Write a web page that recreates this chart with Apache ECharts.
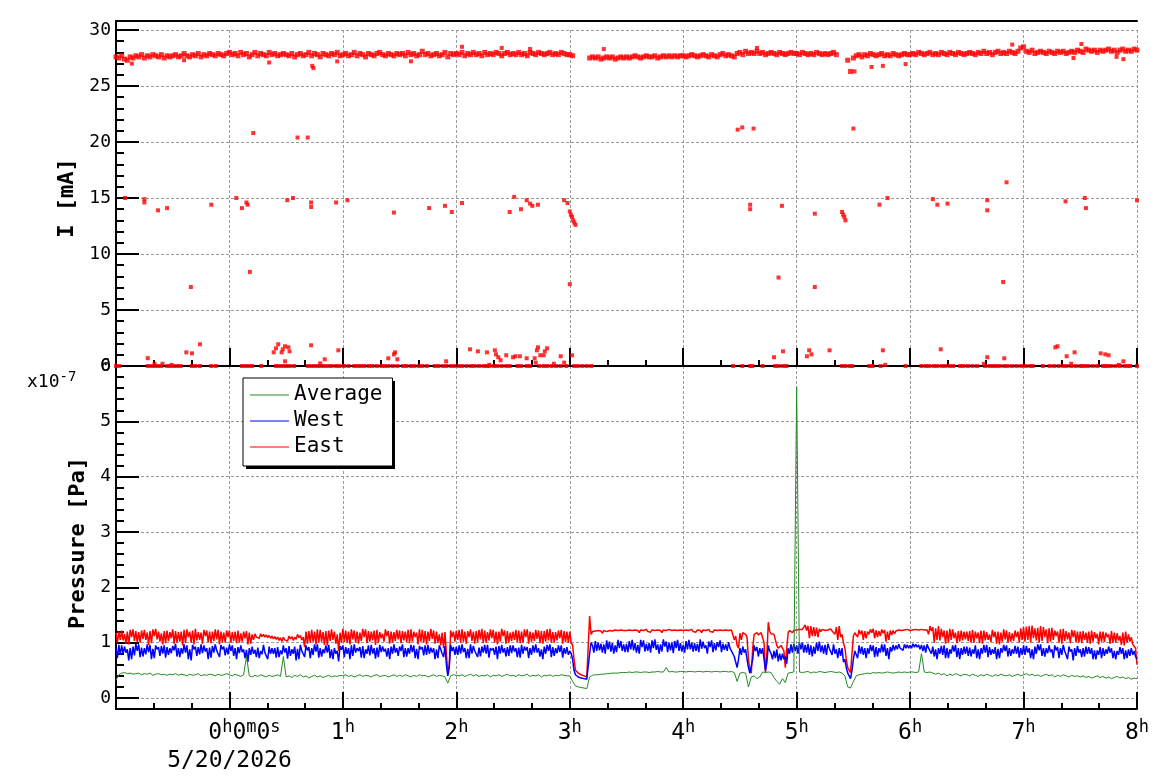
<!DOCTYPE html>
<html>
<head>
<meta charset="utf-8">
<title>Beam current and pressure</title>
<script src="https://cdn.jsdelivr.net/npm/echarts@6.0.0/dist/echarts.min.js"></script>
<style>
  html, body { margin: 0; padding: 0; background: #fff; }
  #main { width: 1158px; height: 782px; }
</style>
</head>
<body>
<div id="main"></div>
<script>
// hours after 5/20/2026 00:00
var T0 = -1;
var DT = 0.025;      // current band and average pressure: one reading / 1.5 min
var DT_FAST = 0.0125; // east and west gauges: one reading / 45 s

// beam current band I [mA], one row = half an hour, null = no reading
var bandI = [
  27.6,27.5,27.7,27.4,27.3,27.6,27.5,27.7,27.6,27.8,27.5,27.7,27.6,27.8,27.7,27.6,27.8,27.5,27.7,27.6,
  27.7,27.8,27.6,27.7,27.9,27.7,27.6,27.8,27.7,27.9,27.6,27.8,27.7,27.9,27.8,27.7,27.9,27.8,27.7,27.9,
  28.0,27.8,27.9,27.7,28.0,27.8,27.9,27.6,27.8,28.0,27.7,27.9,27.8,27.7,28.0,27.8,27.9,27.7,27.8,27.9,
  27.8,27.7,27.9,27.6,27.8,27.9,27.7,27.8,28.0,27.7,27.9,27.8,27.6,27.9,27.8,27.7,27.9,27.8,28.0,27.7,
  27.8,27.9,27.7,27.8,28.0,27.7,27.9,27.8,27.6,27.9,27.8,27.7,27.9,28.0,27.8,27.7,27.9,27.8,27.7,27.9,
  27.8,27.9,27.7,28.0,27.8,27.9,27.7,27.8,28.1,27.8,27.9,27.7,27.8,27.9,27.7,27.8,28.0,27.6,27.9,27.8,
  27.9,27.8,28.0,27.7,27.9,27.8,28.0,27.8,27.9,27.7,28.0,27.8,27.9,27.8,28.0,27.9,27.7,27.9,28.0,27.8,
  27.9,27.8,28.0,27.8,27.9,27.7,28.0,27.9,27.8,28.0,27.9,27.8,27.9,28.0,27.8,27.9,27.8,28.0,27.9,27.8,
  27.8,27.7,null,null,null,null,null,27.5,27.6,27.5,27.6,27.4,27.5,27.6,27.5,27.6,27.4,27.5,27.6,27.5,
  27.6,27.5,27.6,27.7,27.6,27.5,27.6,27.7,27.6,27.6,27.7,27.5,27.6,27.7,27.6,27.7,27.6,27.7,27.6,27.7,
  27.7,27.6,27.7,27.8,27.7,27.6,27.7,27.8,27.7,27.6,27.8,27.7,27.6,27.8,27.9,27.7,27.8,27.7,27.6,27.9,
  28.0,27.8,28.1,27.9,28.0,27.9,28.1,27.9,28.0,27.8,27.9,28.0,27.9,27.8,28.0,27.9,27.8,27.9,28.0,27.9,
  27.9,27.8,28.0,27.9,27.8,27.9,27.8,28.0,27.9,27.8,27.9,27.8,27.9,28.0,27.8,null,null,null,27.3,26.3,
  27.5,27.7,27.8,27.6,27.8,27.7,27.9,27.8,27.7,27.8,27.9,27.7,27.8,27.7,27.9,27.8,27.7,27.8,27.9,27.8,
  27.8,27.9,27.8,28.0,27.9,27.8,27.9,28.0,27.8,27.9,27.8,28.0,27.9,27.8,28.0,27.9,27.8,28.0,27.9,27.8,
  27.9,28.0,27.9,27.8,28.0,27.9,28.1,27.9,28.0,27.8,28.0,28.1,27.9,28.0,27.9,28.1,28.0,27.9,28.1,28.4,
  28.5,28.1,28.0,28.2,27.9,28.0,28.1,28.0,27.9,28.1,28.0,27.9,28.1,28.0,28.1,27.9,28.0,28.1,28.0,28.2,
  28.1,28.0,28.3,28.2,28.1,28.2,28.0,28.2,28.1,28.2,28.3,28.1,28.2,28.0,28.2,28.3,28.1,28.2,28.1,28.3,
  28.2
];

// stray current readings away from the band
var strayT = [-0.92,-0.75,-0.75,-0.63,-0.55,-0.34,-0.16,0.06,0.11,0.15,0.16,0.18,0.21,0.51,0.56,0.6,0.69,0.72,0.72,0.94,
  1.04,1.45,1.76,1.9,1.96,2.05,2.47,2.51,2.57,2.62,2.65,2.67,2.72,2.95,2.98,3.0,3.01,3.02,3.03,3.04,3.05,3.0,
  4.48,4.52,4.62,4.59,4.59,4.84,4.87,5.16,5.16,5.4,5.41,5.42,5.43,5.5,5.73,5.8,6.2,6.24,6.33,6.68,6.68,6.85,6.82,
  7.37,7.54,7.55,8.0,
  -0.86,-0.4,0.35,0.73,0.74,0.95,1.6,2.05,2.4,2.65,3.3,4.65,5.51,5.66,5.76,5.96,6.9,7.44,7.51,7.82,7.88];
var strayI = [15.0,14.9,14.6,13.9,14.1,7.05,14.4,15.0,14.1,14.6,14.4,8.4,20.8,14.8,15.0,20.4,20.4,14.6,14.2,14.6,
  14.8,13.7,14.1,14.3,13.75,14.55,13.75,15.1,14.0,14.8,14.5,14.3,14.4,14.8,14.55,13.8,13.5,13.3,13.0,12.8,12.6,7.3,
  21.1,21.3,21.2,14.4,14.0,7.9,14.3,7.05,13.6,13.75,13.5,13.3,13.0,21.2,14.4,15.0,14.9,14.4,14.5,14.8,13.9,16.4,7.5,
  14.7,15.0,14.1,14.8,
  27.0,27.3,27.1,26.8,26.6,27.2,27.2,28.5,28.4,28.3,28.3,28.4,26.3,26.7,26.8,26.96,28.7,27.5,28.75,27.6,27.4];

// low readings just above zero
var lowT = [-0.72,-0.66,-0.59,-0.51,-0.38,-0.33,-0.26,0.39,0.41,0.43,0.46,0.47,0.49,0.52,0.53,0.49,0.72,0.8,0.84,0.96,
  1.4,1.45,1.46,1.48,1.91,2.12,2.19,2.27,2.29,2.34,2.35,2.37,2.39,2.44,2.5,2.52,2.56,2.62,2.69,2.7,2.71,2.72,2.74,
  2.77,2.78,2.8,2.86,2.92,2.95,3.02,4.8,4.88,5.09,5.11,5.13,5.29,5.76,5.78,6.27,6.65,6.68,6.83,7.28,7.3,7.38,7.42,
  7.45,7.68,7.72,7.75,7.84,7.88];
var lowI = [0.7,0.2,0.2,0.1,1.22,1.13,1.94,1.22,1.58,1.94,1.22,1.49,1.76,1.67,1.31,0.42,1.85,0.24,0.6,1.4,
  0.69,1.04,1.22,0.6,0.42,1.49,1.31,1.22,0.1,1.4,1.04,0.78,0.51,0.96,0.78,0.87,0.87,0.69,0.69,0.3,1.4,1.67,0.96,
  0.96,1.31,1.58,0.2,0.87,0.3,0.96,0.78,1.31,0.87,1.4,1.04,1.4,1.4,0.1,1.49,0.2,0.78,0.69,1.67,1.76,0.87,0.2,
  1.22,1.13,1.04,0.96,0.1,0.42];

// times where the current read 0 mA (beam off)
var zeroT = [-1.0,-0.97,-0.72,-0.69,-0.66,-0.63,-0.6,-0.55,-0.52,-0.49,-0.46,-0.43,-0.33,-0.3,-0.26,-0.16,-0.12,
  0.11,0.14,0.17,0.2,0.28,0.41,0.44,0.47,0.5,0.53,0.57,0.69,0.72,0.75,0.78,0.81,0.84,0.87,0.9,0.94,0.97,
  1.01,1.05,1.1,1.13,1.16,1.19,1.23,1.26,1.3,1.34,1.37,1.4,1.44,1.48,1.53,1.56,1.6,1.63,1.67,1.7,1.74,
  1.81,1.84,1.88,1.91,1.95,1.98,2.02,2.05,2.09,2.13,2.16,2.2,2.24,2.27,2.29,2.33,2.36,2.4,2.44,2.47,
  2.54,2.57,2.62,2.65,2.73,2.77,2.8,2.84,2.88,2.92,2.97,3.04,3.07,3.11,3.15,3.19,
  4.44,4.52,4.59,4.61,4.7,4.81,4.84,4.88,4.91,5.4,5.43,5.47,5.49,5.64,5.67,5.74,5.96,
  6.1,6.14,6.17,6.21,6.24,6.28,6.31,6.35,6.38,6.44,6.47,6.51,6.55,6.59,6.66,6.7,6.73,6.76,
  6.79,6.83,6.86,6.9,6.94,6.98,7.02,7.06,7.08,7.17,7.23,7.27,7.31,7.35,7.38,7.42,7.46,7.5,7.52,
  7.54,7.57,7.61,7.65,7.7,7.72,7.74,7.77,7.81,7.85,7.89,7.92,7.94,8.0];

// vacuum pressure in units of 1e-7 Pa, east/west every 45 s, one row = half an hour
var eastP = [
  1.18,1.0,1.2,1.05,1.22,1.04,1.16,0.98,1.2,0.97,1.23,1.1,1.24,1.03,1.21,1.0,1.19,1.0,1.22,1.07,1.23,1.05,1.18,0.96,1.21,0.99,1.24,1.12,1.25,1.06,1.2,1.02,1.17,0.97,1.21,0.99,1.22,1.03,1.19,1.08,
  1.24,0.98,1.21,1.0,1.19,1.02,1.2,0.95,1.23,0.99,1.24,1.1,1.2,1.0,1.22,0.97,1.25,1.04,1.19,1.05,1.18,0.98,1.23,1.12,1.22,1.01,1.2,0.99,1.2,1.03,1.24,1.06,1.23,0.97,1.2,1.01,1.18,1.0,1.22,1.1,
  1.22,1.0,1.19,1.03,1.2,0.99,1.22,1.0,1.17,1.02,1.2,1.08,1.21,0.97,1.18,0.98,1.15,1.05,1.16,1.1,1.12,1.08,1.16,1.11,1.15,1.1,1.14,1.09,1.13,1.08,1.12,1.07,1.11,1.06,1.1,1.04,1.09,1.02,1.1,1.05,
  1.08,1.03,1.12,1.07,1.11,1.04,1.1,1.06,1.15,1.09,1.13,1.05,1.1,0.92,1.2,0.98,1.21,1.0,1.23,1.02,1.2,0.97,1.24,1.0,1.23,1.02,1.19,0.96,1.21,0.95,1.22,1.03,1.24,1.05,1.2,0.98,1.15,0.85,1.18,1.0,
  1.25,1.01,1.22,1.0,1.2,0.97,1.24,1.06,1.22,1.0,1.2,0.98,1.18,1.03,1.25,1.1,1.24,0.99,1.21,1.02,1.2,1.04,1.22,0.96,1.23,1.0,1.19,1.08,1.16,1.02,1.24,1.12,1.21,0.98,1.2,1.0,1.19,1.03,1.23,1.06,
  1.22,0.99,1.21,1.04,1.2,1.01,1.23,0.99,1.24,1.02,1.2,1.1,1.18,0.97,1.24,1.02,1.23,1.0,1.21,0.97,1.2,1.03,1.25,1.07,1.22,0.98,1.2,1.0,1.15,0.95,1.18,0.9,1.19,0.8,0.45,0.6,1.22,1.1,1.2,1.02,
  1.22,1.05,1.23,1.0,1.24,1.02,1.2,0.98,1.21,1.1,1.24,1.03,1.2,0.98,1.21,1.01,1.23,1.06,1.25,0.99,1.22,1.0,1.19,1.04,1.24,1.08,1.23,1.0,1.2,0.97,1.2,1.02,1.25,1.12,1.22,0.98,1.21,1.0,1.18,1.03,
  1.2,1.05,1.23,1.01,1.22,0.99,1.2,1.0,1.24,1.1,1.24,0.98,1.2,1.02,1.18,1.03,1.23,1.07,1.22,0.99,1.21,0.98,1.21,1.02,1.24,1.04,1.25,1.0,1.19,1.0,1.19,1.04,1.22,1.08,1.23,0.98,1.21,1.01,1.2,1.0,
  1.2,1.0,0.95,0.7,0.5,0.47,0.45,0.44,0.42,0.41,0.4,0.39,0.38,0.38,1.48,1.15,1.2,1.17,1.21,1.18,1.22,1.19,1.21,1.17,1.22,1.19,1.2,1.18,1.22,1.19,1.21,1.18,1.23,1.2,1.22,1.19,1.23,1.2,1.22,1.19,
  1.22,1.19,1.23,1.2,1.22,1.19,1.23,1.2,1.22,1.18,1.23,1.2,1.22,1.19,1.24,1.2,1.22,1.19,1.23,1.2,1.22,1.19,1.23,1.2,1.22,1.18,1.23,1.2,1.22,1.19,1.24,1.21,1.22,1.19,1.23,1.2,1.22,1.19,1.23,1.2,
  1.22,1.19,1.23,1.2,1.22,1.19,1.24,1.2,1.22,1.19,1.23,1.2,1.22,1.18,1.23,1.2,1.22,1.19,1.24,1.2,1.22,1.19,1.23,1.2,1.22,1.19,1.23,1.21,1.22,1.19,1.23,1.2,1.22,1.19,1.23,1.2,1.05,1.12,0.95,0.9,
  1.17,1.05,1.18,1.16,1.15,1.1,0.7,0.5,0.45,0.9,1.15,1.18,1.18,1.14,1.16,1.18,1.17,1.0,0.46,0.8,1.37,1.2,1.16,1.18,1.15,1.05,0.95,0.9,0.88,0.95,0.92,0.85,0.55,0.9,1.18,1.22,1.2,1.18,1.22,1.2,
  1.23,1.2,1.24,1.21,1.24,1.21,1.32,1.22,1.3,1.08,1.3,1.12,1.28,1.12,1.27,1.1,1.25,1.2,1.24,1.22,1.22,1.2,1.23,1.2,1.25,1.21,1.24,1.15,1.28,1.05,1.3,1.1,1.15,1.0,0.9,0.7,0.55,0.5,0.46,0.8,
  1.12,1.18,1.2,1.1,1.23,1.15,1.22,1.05,1.21,1.08,1.2,1.15,1.24,1.18,1.25,1.08,1.22,1.1,1.21,1.12,1.24,1.17,1.23,1.02,1.2,1.05,1.22,1.14,1.22,1.16,1.21,1.2,1.23,1.2,1.22,1.2,1.23,1.2,1.24,1.21,
  1.22,1.2,1.23,1.2,1.24,1.21,1.23,1.2,1.24,1.21,1.23,1.2,1.23,1.15,1.3,1.21,1.28,1.0,1.26,1.05,1.3,1.04,1.25,1.1,1.22,0.98,1.22,1.0,1.25,1.05,1.24,1.08,1.18,0.99,1.21,1.02,1.22,1.04,1.2,1.06,
  1.2,1.03,1.21,1.0,1.23,1.0,1.2,1.08,1.18,0.99,1.22,0.98,1.22,1.04,1.19,1.05,1.15,1.01,1.23,1.1,1.2,0.98,1.2,0.97,1.18,1.02,1.24,1.06,1.22,1.0,1.19,1.02,1.17,1.03,1.22,1.1,1.2,1.0,1.26,1.05,
  1.28,1.02,1.29,1.05,1.3,1.0,1.31,1.08,1.26,1.04,1.27,1.0,1.3,1.03,1.28,1.1,1.24,0.99,1.26,1.02,1.27,1.05,1.22,1.12,1.2,1.0,1.24,0.98,1.25,1.03,1.21,1.06,1.18,0.99,1.23,1.1,1.22,1.01,1.2,1.0,
  1.2,0.99,1.21,1.05,1.18,1.0,1.2,0.98,1.22,1.02,1.19,1.08,1.16,0.97,1.2,1.02,1.2,1.01,1.18,1.1,1.15,0.98,1.21,1.0,1.18,1.0,1.17,1.04,1.12,0.96,1.18,0.95,1.2,1.0,1.15,1.02,1.1,0.97,0.98,0.9,
  0.6
];
var westP = [
  0.9,0.72,0.96,0.78,0.95,0.8,0.93,0.82,0.88,0.68,0.9,0.7,0.93,0.77,0.98,0.85,0.97,0.74,0.91,0.75,0.9,0.79,0.97,0.83,0.96,0.7,0.89,0.72,0.95,0.88,0.92,0.76,0.94,0.8,0.95,0.73,0.92,0.78,0.9,0.81,
  0.94,0.86,0.98,0.75,0.9,0.74,0.9,0.8,0.97,0.82,0.95,0.7,0.88,0.68,0.96,0.88,0.93,0.76,0.92,0.79,0.97,0.81,0.95,0.84,0.9,0.7,0.91,0.73,0.94,0.82,0.97,0.86,0.8,0.74,0.96,0.88,0.93,0.77,0.91,0.79,
  0.97,0.85,0.95,0.76,0.9,0.7,0.92,0.81,0.95,0.83,0.88,0.72,0.87,0.65,0.9,0.78,0.93,0.8,0.87,0.74,0.91,0.72,0.85,0.79,0.96,0.82,0.85,0.7,0.93,0.8,0.9,0.8,0.9,0.73,0.92,0.74,0.86,0.79,0.95,0.82,
  0.9,0.71,0.94,0.76,0.88,0.8,0.93,0.68,0.89,0.7,0.96,0.85,0.8,0.74,0.95,0.86,0.92,0.72,0.9,0.78,0.97,0.84,0.97,0.73,0.9,0.75,0.88,0.81,0.95,0.82,0.96,0.72,0.88,0.7,0.9,0.8,0.85,0.66,0.94,0.87,
  0.95,0.74,0.92,0.8,0.9,0.7,0.95,0.76,0.97,0.82,0.9,0.85,0.92,0.73,0.94,0.72,0.88,0.8,0.95,0.77,0.96,0.8,0.9,0.71,0.91,0.74,0.96,0.83,0.93,0.84,0.89,0.75,0.9,0.7,0.93,0.8,0.97,0.82,0.9,0.76,
  0.93,0.85,0.97,0.74,0.9,0.75,0.9,0.8,0.96,0.83,0.95,0.72,0.89,0.7,0.94,0.88,0.92,0.77,0.95,0.78,0.96,0.8,0.91,0.82,0.9,0.7,0.88,0.72,0.95,0.88,0.8,0.74,0.94,0.6,0.4,0.55,0.96,0.85,0.92,0.78,
  0.93,0.78,0.95,0.8,0.97,0.83,0.9,0.72,0.89,0.72,0.97,0.8,0.94,0.85,0.88,0.74,0.91,0.75,0.93,0.82,0.96,0.8,0.96,0.73,0.9,0.86,0.9,0.78,0.93,0.7,0.94,0.8,0.96,0.82,0.9,0.75,0.92,0.76,0.95,0.81,
  0.95,0.84,0.9,0.74,0.91,0.73,0.96,0.8,0.93,0.86,0.92,0.72,0.9,0.78,0.95,0.82,0.97,0.82,0.9,0.75,0.88,0.7,0.93,0.8,0.96,0.85,0.97,0.74,0.92,0.76,0.9,0.81,0.95,0.83,0.95,0.73,0.9,0.8,0.92,0.78,
  0.85,0.8,0.7,0.5,0.42,0.4,0.38,0.37,0.36,0.36,0.35,0.34,0.34,0.34,0.8,1.0,0.95,0.82,1.03,0.85,1.0,0.86,0.98,0.82,0.97,0.8,1.04,0.88,1.02,0.84,0.99,0.8,0.95,0.83,1.05,0.9,1.03,0.85,0.97,0.83,
  0.98,0.83,1.03,0.88,1.05,0.86,0.99,0.82,0.96,0.8,1.05,0.92,1.04,0.84,0.98,0.85,0.99,0.82,1.04,0.9,1.06,0.87,0.97,0.8,0.97,0.84,1.06,0.93,1.02,0.83,1.0,0.86,1.0,0.81,1.03,0.9,1.05,0.85,0.99,0.84,
  0.96,0.82,1.03,0.88,1.05,0.88,1.0,0.84,0.99,0.85,0.98,0.83,1.06,0.89,1.02,0.9,0.95,0.8,1.02,0.92,1.04,0.83,0.99,0.86,1.01,0.92,1.04,0.83,0.98,0.87,0.97,0.85,1.01,0.9,0.88,0.8,0.75,0.65,0.55,0.7,
  0.9,0.78,0.93,0.82,0.88,0.7,0.55,0.45,0.42,0.7,0.95,0.85,0.92,0.75,0.9,0.8,0.9,0.7,0.5,0.65,0.95,0.85,0.8,0.7,0.85,0.72,0.88,0.66,0.8,0.68,0.8,0.7,0.75,0.62,0.9,0.8,0.97,0.82,0.98,0.85,
  0.95,0.8,1.0,0.88,1.0,0.82,0.96,0.82,0.98,0.78,0.95,0.75,0.93,0.8,1.0,0.85,1.02,0.83,0.95,0.8,0.96,0.78,0.98,0.9,0.92,0.78,0.97,0.8,0.88,0.72,0.9,0.76,0.9,0.65,0.7,0.55,0.45,0.4,0.35,0.5,
  0.7,0.85,0.88,0.72,0.95,0.8,0.93,0.78,0.9,0.72,0.9,0.8,0.96,0.85,0.95,0.74,0.92,0.75,0.9,0.82,0.97,0.83,0.97,0.76,0.9,0.7,0.92,0.84,0.96,0.86,0.95,0.88,0.97,0.9,0.93,0.86,0.97,0.9,0.96,0.9,
  0.95,0.9,0.98,0.92,0.97,0.92,0.96,0.88,0.96,0.85,0.95,0.82,0.97,0.9,0.92,0.8,0.93,0.75,0.88,0.7,0.9,0.8,0.94,0.78,0.95,0.72,0.9,0.72,0.88,0.8,0.95,0.84,0.96,0.74,0.9,0.7,0.9,0.78,0.93,0.8,
  0.93,0.76,0.91,0.75,0.88,0.8,0.95,0.72,0.88,0.7,0.9,0.8,0.96,0.82,0.96,0.74,0.92,0.78,0.88,0.8,0.92,0.7,0.89,0.72,0.9,0.82,0.96,0.85,0.95,0.75,0.9,0.76,0.88,0.8,0.94,0.8,0.93,0.73,0.9,0.78,
  0.95,0.78,0.94,0.82,0.9,0.72,0.88,0.7,0.93,0.8,0.97,0.86,0.97,0.76,0.9,0.75,0.9,0.81,0.95,0.83,0.88,0.72,0.95,0.86,0.92,0.72,0.9,0.78,0.96,0.85,0.78,0.7,0.93,0.84,0.88,0.68,0.9,0.76,0.94,0.82,
  0.88,0.74,0.9,0.75,0.93,0.8,0.92,0.8,0.9,0.7,0.86,0.7,0.86,0.78,0.92,0.72,0.9,0.76,0.88,0.8,0.93,0.82,0.9,0.72,0.85,0.7,0.85,0.78,0.92,0.8,0.9,0.7,0.86,0.72,0.88,0.76,0.9,0.78,0.85,0.75,
  0.7
];
// average of the gauges, every 1.5 min
var avgP = [
  0.32,0.42,0.45,0.46,0.44,0.45,0.43,0.44,0.45,0.42,0.44,0.43,0.45,0.41,0.43,0.44,0.42,0.43,0.41,0.43,
  0.42,0.44,0.41,0.43,0.42,0.4,0.43,0.41,0.42,0.44,0.4,0.42,0.41,0.43,0.42,0.4,0.43,0.41,0.42,0.44,
  0.42,0.4,0.43,0.41,0.39,0.42,0.75,0.4,0.38,0.41,0.39,0.42,0.4,0.38,0.41,0.39,0.4,0.42,0.39,0.75,
  0.38,0.4,0.37,0.41,0.39,0.42,0.38,0.4,0.36,0.39,0.41,0.38,0.4,0.37,0.39,0.41,0.38,0.4,0.39,0.41,
  0.4,0.42,0.39,0.41,0.38,0.4,0.42,0.39,0.41,0.4,0.38,0.41,0.42,0.39,0.4,0.41,0.38,0.4,0.42,0.39,
  0.41,0.39,0.42,0.4,0.38,0.41,0.39,0.42,0.4,0.41,0.38,0.4,0.42,0.39,0.41,0.4,0.38,0.27,0.4,0.42,
  0.41,0.4,0.42,0.39,0.41,0.43,0.4,0.42,0.39,0.41,0.4,0.42,0.38,0.41,0.4,0.42,0.39,0.41,0.43,0.4,
  0.41,0.39,0.42,0.4,0.41,0.43,0.39,0.41,0.4,0.42,0.38,0.41,0.4,0.42,0.39,0.41,0.4,0.42,0.41,0.4,
  0.4,0.3,0.22,0.2,0.19,0.18,0.17,0.38,0.41,0.42,0.42,0.43,0.43,0.44,0.44,0.45,0.45,0.45,0.46,0.46,
  0.46,0.47,0.46,0.47,0.47,0.46,0.47,0.47,0.46,0.47,0.47,0.48,0.47,0.47,0.55,0.47,0.48,0.47,0.47,0.48,
  0.48,0.47,0.48,0.48,0.47,0.48,0.48,0.47,0.48,0.48,0.47,0.48,0.48,0.47,0.48,0.48,0.47,0.48,0.46,0.3,
  0.45,0.46,0.45,0.2,0.38,0.4,0.35,0.38,0.47,0.46,0.47,0.46,0.37,0.3,0.25,0.35,0.28,0.45,0.46,0.47,
  5.62,0.47,0.46,0.47,0.48,0.45,0.47,0.46,0.48,0.47,0.46,0.47,0.48,0.47,0.46,0.47,0.45,0.4,0.2,0.18,
  0.3,0.4,0.42,0.43,0.44,0.45,0.44,0.46,0.45,0.46,0.45,0.46,0.47,0.46,0.45,0.46,0.47,0.46,0.47,0.46,
  0.47,0.47,0.46,0.47,0.8,0.47,0.46,0.47,0.45,0.43,0.45,0.42,0.44,0.4,0.43,0.41,0.44,0.42,0.4,0.43,
  0.42,0.4,0.43,0.41,0.39,0.42,0.4,0.43,0.41,0.39,0.42,0.4,0.43,0.41,0.4,0.42,0.39,0.41,0.43,0.4,
  0.42,0.44,0.41,0.43,0.4,0.42,0.39,0.41,0.43,0.4,0.42,0.38,0.41,0.39,0.42,0.4,0.38,0.41,0.39,0.4,
  0.38,0.4,0.37,0.39,0.36,0.38,0.4,0.37,0.39,0.36,0.38,0.35,0.37,0.39,0.36,0.38,0.35,0.37,0.34,0.36,
  0.35
];

var MONO = 'DejaVu Sans Mono';
var GRIDLINE = { lineStyle: { color: '#9a9a9a', width: 1, type: [3, 2] } };
var BLACK2 = { color: '#000', width: 2 };

function sampled(vals, dt) {
  var out = [];
  for (var i = 0; i < vals.length; i++) {
    if (vals[i] === null) continue;
    out.push([+(T0 + i * dt).toFixed(4), vals[i]]);
  }
  return out;
}
function zip(ts, vs) {
  var out = [];
  for (var i = 0; i < ts.length; i++) out.push([ts[i], vs[i]]);
  return out;
}

var chart = echarts.init(document.getElementById('main'));

var option = {
  animation: false,
  backgroundColor: '#fff',
  grid: [
    { left: 116, right: 21, top: 30, height: 336 },
    { left: 116, right: 21, top: 366, height: 332 }
  ],
  xAxis: [
    {
      gridIndex: 0, type: 'value', min: -1, max: 8, interval: 1,
      axisLine: { onZero: false, lineStyle: BLACK2 },
      axisTick: { inside: true, length: 18, lineStyle: BLACK2 },
      minorTick: { show: true, splitNumber: 3, length: 6, lineStyle: BLACK2 },
      axisLabel: { show: false },
      splitLine: GRIDLINE
    },
    {
      // frame line along the top
      gridIndex: 0, type: 'value', min: -1, max: 8, position: 'top', offset: 9,
      axisLine: { onZero: false, lineStyle: BLACK2 },
      axisTick: { show: false }, axisLabel: { show: false }, splitLine: { show: false }
    },
    {
      gridIndex: 1, type: 'value', min: -1, max: 8, interval: 1, offset: 11,
      axisLine: { onZero: false, lineStyle: BLACK2 },
      axisTick: { inside: true, length: 17, lineStyle: BLACK2 },
      minorTick: { show: true, splitNumber: 3, length: 6, lineStyle: BLACK2 },
      splitLine: GRIDLINE,
      axisLabel: {
        margin: 10,
        showMaxLabel: true,
        formatter: function (v) {
          if (v < 0) return '';
          if (v === 0) return '{sp| }{n|0}{s|h}{n|0}{s|m}{n|0}{s|s}\n{n|5/20/2026}';
          return '{n|' + v + '}{s|h}';
        },
        rich: {
          n: { fontFamily: MONO, fontSize: 23, color: '#000', lineHeight: 28 },
          s: { fontFamily: MONO, fontSize: 17, color: '#000', lineHeight: 12, verticalAlign: 'top' },
          sp: { width: 30 }
        }
      }
    }
  ],
  yAxis: [
    {
      gridIndex: 0, type: 'value', min: 0, max: 30, interval: 5,
      name: 'I [mA]', nameLocation: 'middle', nameGap: 27,
      nameTextStyle: { fontFamily: MONO, fontSize: 22, fontWeight: 'bold', color: '#000' },
      axisLine: { show: true, onZero: false, lineStyle: BLACK2 },
      axisTick: { inside: true, length: 23, lineStyle: BLACK2 },
      minorTick: { show: true, splitNumber: 5, length: 8, lineStyle: BLACK2 },
      axisLabel: { fontFamily: MONO, fontSize: 18, color: '#000', margin: 5 },
      splitLine: GRIDLINE
    },
    {
      gridIndex: 1, type: 'value', min: 0, max: 6, interval: 1,
      name: 'Pressure [Pa]', nameLocation: 'middle', nameGap: 15,
      nameTextStyle: { fontFamily: MONO, fontSize: 22, fontWeight: 'bold', color: '#000', padding: [0, 22, 0, 0] },
      axisLine: { show: true, onZero: false, lineStyle: BLACK2 },
      axisTick: { inside: true, length: 23, lineStyle: BLACK2 },
      minorTick: { show: true, splitNumber: 5, length: 8, lineStyle: BLACK2 },
      axisLabel: { fontFamily: MONO, fontSize: 18, color: '#000', margin: 5 },
      splitLine: GRIDLINE
    }
  ],
  legend: {
    data: ['Average', 'West', 'East'],
    orient: 'vertical', left: 243, top: 378, z: 10,
    padding: [6, 10, 8, 7], itemGap: 4,
    icon: 'rect', itemWidth: 39, itemHeight: 1,
    backgroundColor: '#fff', borderColor: '#000', borderWidth: 1, borderRadius: 0,
    textStyle: { fontFamily: MONO, fontSize: 21, color: '#000', lineHeight: 22 }
  },
  graphic: [
    { type: 'line', shape: { x1: 116, y1: 20, x2: 116, y2: 31 }, style: { stroke: '#000', lineWidth: 2 } },
    { type: 'line', shape: { x1: 116, y1: 697, x2: 116, y2: 710 }, style: { stroke: '#000', lineWidth: 2 } },
    // drop shadow behind the legend box
    { type: 'rect', z: 5, shape: { x: 246, y: 381, width: 149, height: 88 }, style: { fill: '#000' } },
    {
      type: 'text', left: 27, top: 370,
      style: {
        text: '{a|x10}{b|-7}',
        rich: {
          a: { fontFamily: MONO, fontSize: 18, fill: '#000', lineHeight: 24 },
          b: { fontFamily: MONO, fontSize: 14, fill: '#000', lineHeight: 12, verticalAlign: 'top' }
        }
      }
    }
  ],
  series: [
    {
      name: 'I', type: 'scatter', xAxisIndex: 0, yAxisIndex: 0,
      symbol: 'rect', symbolSize: 5, itemStyle: { color: '#ff0000' },
      data: sampled(bandI, DT)
    },
    {
      name: 'I stray', type: 'scatter', xAxisIndex: 0, yAxisIndex: 0,
      symbol: 'rect', symbolSize: 4, itemStyle: { color: '#ff0000' },
      data: zip(strayT, strayI).concat(zip(lowT, lowI)).concat(zeroT.map(function (t) { return [t, 0]; }))
    },
    {
      name: 'East', type: 'line', xAxisIndex: 2, yAxisIndex: 1,
      symbol: 'none', color: '#ff0000', lineStyle: { width: 1.5 },
      data: sampled(eastP, DT_FAST)
    },
    {
      name: 'West', type: 'line', xAxisIndex: 2, yAxisIndex: 1,
      symbol: 'none', color: '#0000ff', lineStyle: { width: 1.5 },
      data: sampled(westP, DT_FAST)
    },
    {
      name: 'Average', type: 'line', xAxisIndex: 2, yAxisIndex: 1,
      symbol: 'none', color: '#228b22', lineStyle: { width: 1 },
      data: sampled(avgP, DT)
    }
  ]
};

chart.setOption(option);
</script>
</body>
</html>
